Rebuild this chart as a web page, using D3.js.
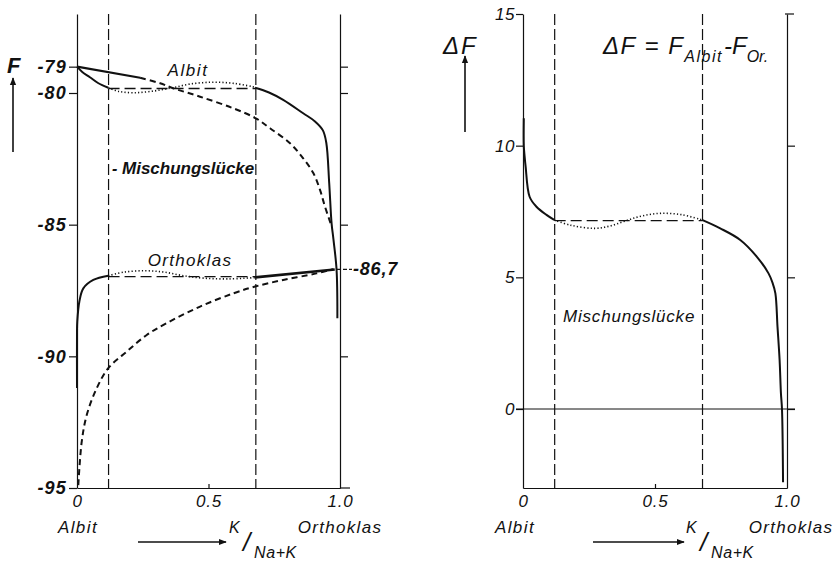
<!DOCTYPE html>
<html><head><meta charset="utf-8">
<script src="https://cdn.jsdelivr.net/npm/d3@7"></script>
<style>
body{margin:0;background:#fff;}
text{font-family:"Liberation Sans",Arial,sans-serif;font-style:italic;fill:#111;}
</style></head>
<body><svg id="c" width="840" height="566"></svg>
<script>
// ---------- data ----------
const gapBounds = [0.12, 0.68];
const leftYTicks = [-79, -80, -85, -90, -95];
const leftRightTicks = [-79, -80, -85, -90];
const rightYTicks = [15, 10, 5, 0];
const rightRightTicks = [10, 5, 0];
const xTicks = [0, 0.5, 1];
const xTickLabels = ["0", "0.5", "1.0"];
const orthoEnd = -86.7;

const albitSolidLeft = [[0,-79],[0.02,-79.2],[0.049,-79.4],[0.08,-79.62],[0.119,-79.8]];
const albitDotted = [[0.119,-79.8],[0.16,-79.94],[0.214,-79.99],[0.28,-79.94],[0.354,-79.82],[0.43,-79.66],[0.518,-79.59],[0.6,-79.64],[0.677,-79.78]];
const albitTie = [[0.12,-79.83],[0.68,-79.83]];
const albitSolidRight = [[0.677,-79.8],[0.73,-79.98],[0.784,-80.26],[0.86,-80.77],[0.905,-81.08],[0.935,-81.42],[0.948,-81.9],[0.959,-83.43],[0.968,-84.95],[0.975,-85.55],[0.987,-86.72],[0.99,-88.55]];
const albitTangent = [[0,-79],[0.24,-79.42]];
const albitDashed = [[0.24,-79.42],[0.316,-79.63],[0.366,-79.82],[0.468,-80.14],[0.594,-80.58],[0.68,-80.96],[0.734,-81.34],[0.81,-81.91],[0.86,-82.48],[0.899,-83.05],[0.924,-83.68],[0.943,-84.32],[0.966,-85.0]];

const orthoSolidLeft = [[0,-91.2],[0,-89.06],[0.001,-88.68],[0.009,-87.92],[0.024,-87.42],[0.062,-87.1],[0.119,-86.94]];
const orthoDotted = [[0.119,-86.94],[0.18,-86.8],[0.26,-86.75],[0.33,-86.8],[0.4,-86.93],[0.48,-87.03],[0.575,-87.06],[0.677,-87.01]];
const orthoTie = [[0.12,-86.97],[0.68,-86.97]];
const orthoTangent = [[0.677,-87.0],[0.98,-86.7]];
const orthoDashed = [[0.005,-94.89],[0.018,-93.24],[0.037,-92.23],[0.075,-91.21],[0.119,-90.45],[0.189,-89.82],[0.265,-89.19],[0.341,-88.74],[0.468,-88.11],[0.594,-87.61],[0.677,-87.35],[0.784,-87.1],[0.911,-86.85],[0.975,-86.69]];

const dfSolidLeft = [[0.003,11.04],[0.003,10],[0.006,9.6],[0.01,9.2],[0.025,8.06],[0.051,7.68],[0.089,7.37],[0.118,7.18]];
const dfDotted = [[0.118,7.18],[0.18,6.98],[0.272,6.86],[0.33,6.95],[0.39,7.15],[0.45,7.33],[0.519,7.43],[0.6,7.38],[0.678,7.18]];
const dfTie = [[0.12,7.15],[0.68,7.15]];
const dfSolidRight = [[0.678,7.18],[0.747,6.86],[0.823,6.42],[0.886,5.78],[0.93,5.15],[0.945,4.8],[0.956,4.39],[0.964,3.13],[0.972,1.86],[0.977,0.6],[0.981,0],[0.985,-2.78]];

// ---------- setup ----------
const svg = d3.select("#c");
svg.append("defs").append("marker").attr("id","ah").attr("viewBox","0 0 10 10")
  .attr("refX",9).attr("refY",5).attr("markerWidth",8).attr("markerHeight",8)
  .attr("markerUnits","userSpaceOnUse").attr("orient","auto")
  .append("path").attr("d","M0,1 L10,5 L0,9 Z").attr("fill","#111");

const xL = d3.scaleLinear([0,1],[77,340]);
const yL = d3.scaleLinear([-95,-77],[488,14]);
const xR = d3.scaleLinear([0,1],[523,787]);
const yR = d3.scaleLinear([-3,15],[488,14]);
const hy = v => String(v).replace("\u2212","-");

function styleAxis(g, fs, fw, ls){
  g.selectAll(".domain").attr("stroke","#111").attr("stroke-width",1.2);
  g.selectAll(".tick line").attr("stroke","#111").attr("stroke-width",1.2);
  g.selectAll("text").attr("font-size",fs).attr("font-weight",fw||"normal")
    .attr("letter-spacing",ls||0)
    .attr("fill","#111").attr("font-family","Liberation Sans, Arial, sans-serif").style("font-style","italic");
}
function draw(data, xs, ys, opt){
  const line = d3.line().x(d=>xs(d[0])).y(d=>ys(d[1])).curve(opt.curve||d3.curveCatmullRom.alpha(0.5));
  svg.append("path").attr("d",line(data)).attr("fill","none").attr("stroke","#111")
    .attr("stroke-width",opt.w||1.8).attr("stroke-dasharray",opt.dash||null)
    .attr("stroke-linecap",opt.cap||"butt");
}
function arrow(x1,y1,x2,y2){
  svg.append("line").attr("x1",x1).attr("y1",y1).attr("x2",x2).attr("y2",y2)
    .attr("stroke","#111").attr("stroke-width",1.6).attr("marker-end","url(#ah)");
}
function txt(x,y,s,fs,anchor,fw,ls){
  return svg.append("text").attr("x",x).attr("y",y).attr("font-size",fs)
    .attr("text-anchor",anchor||"start").attr("font-weight",fw||"normal")
    .attr("letter-spacing",ls||0).text(s);
}

// ---------- LEFT PANEL ----------
const gl = svg.append("g").attr("transform",`translate(${xL(0)},0)`)
  .call(d3.axisLeft(yL).tickValues(leftYTicks).tickSize(8).tickSizeOuter(0).tickPadding(2).tickFormat(hy));
styleAxis(gl,18,"bold",1.2);
const gr = svg.append("g").attr("transform",`translate(${xL(1)},0)`)
  .call(d3.axisRight(yL).tickValues(leftRightTicks).tickSize(8).tickSizeOuter(0).tickFormat(""));
styleAxis(gr,12);
const gb = svg.append("g").attr("transform",`translate(0,${yL(-95)})`)
  .call(d3.axisBottom(xL).tickValues(xTicks).tickSize(-4).tickSizeOuter(0).tickPadding(7).tickFormat((d,i)=>xTickLabels[i]));
styleAxis(gb,17,"normal",0.8);
gb.selectAll(".tick").filter(d=>d!==0.5).select("line").remove();
svg.append("line").attr("x1",xL(1)).attr("x2",xL(1)+10).attr("y1",yL(-95)).attr("y2",yL(-95)).attr("stroke","#111").attr("stroke-width",1.2);
// -86,7 marker
svg.append("line").attr("x1",xL(1)-3).attr("x2",xL(1)+12).attr("y1",yL(orthoEnd)).attr("y2",yL(orthoEnd))
  .attr("stroke","#111").attr("stroke-width",1.2).attr("stroke-dasharray","4,2");
txt(xL(1)+13, yL(orthoEnd)+6, "-86,7", 18, "start", "bold", 0.8);

gapBounds.forEach(g=>{
  svg.append("line").attr("x1",xL(g)).attr("x2",xL(g)).attr("y1",yL(-77)).attr("y2",yL(-95))
    .attr("stroke","#111").attr("stroke-width",1.2).attr("stroke-dasharray","11,4");
});

draw(albitSolidLeft,xL,yL,{w:2});
draw(albitDotted,xL,yL,{w:1.6,dash:"1.2,2.2"});
draw(albitTie,xL,yL,{w:1.3,dash:"11,5",curve:d3.curveLinear});
draw(albitSolidRight,xL,yL,{w:2});
draw(albitTangent,xL,yL,{w:2.2,curve:d3.curveLinear});
draw(albitDashed,xL,yL,{w:2,dash:"6,4"});
draw(orthoSolidLeft,xL,yL,{w:2});
draw(orthoDotted,xL,yL,{w:1.6,dash:"1.2,2.2"});
draw(orthoTie,xL,yL,{w:1.3,dash:"11,5",curve:d3.curveLinear});
draw(orthoTangent,xL,yL,{w:2.6,curve:d3.curveLinear});
draw(orthoDashed,xL,yL,{w:2,dash:"6,4"});

txt(7,73,"F",22,"start","bold");
arrow(13,152,13,78);
txt(188,76,"Albit",17,"middle","normal",1.6);
txt(112,174,"-",16,"start","bold");
txt(122,174,"Mischungslücke",17,"start","bold",0);
txt(190,266,"Orthoklas",17,"middle","normal",1.3);
txt(78,533,"Albit",17,"middle","normal",1.4);
txt(340,533,"Orthoklas",17,"middle","normal",1.3);
arrow(138,542,226,542);
txt(229,533,"K",16,"start");
txt(243,551,"/",26,"start");
txt(254,558,"Na+K",16,"start","normal",0.6);

// ---------- RIGHT PANEL ----------
const rl = svg.append("g").attr("transform",`translate(${xR(0)},0)`)
  .call(d3.axisLeft(yR).tickValues(rightYTicks).tickSize(7).tickSizeOuter(0).tickPadding(1));
styleAxis(rl,17,"normal",0.5);
const rr = svg.append("g").attr("transform",`translate(${xR(1)},0)`)
  .call(d3.axisRight(yR).tickValues(rightRightTicks).tickSize(8).tickSizeOuter(0).tickFormat(""));
styleAxis(rr,12);
svg.append("line").attr("x1",xR(1)-2).attr("x2",xR(1)+7).attr("y1",yR(15)).attr("y2",yR(15)).attr("stroke","#111").attr("stroke-width",1.2);
const rb = svg.append("g").attr("transform",`translate(0,${yR(-3)})`)
  .call(d3.axisBottom(xR).tickValues(xTicks).tickSize(-4).tickSizeOuter(0).tickPadding(7).tickFormat((d,i)=>xTickLabels[i]));
styleAxis(rb,17,"normal",0.8);
rb.selectAll(".tick").filter(d=>d!==0.5).select("line").remove();
svg.append("line").attr("x1",xR(0)-7).attr("x2",xR(1)+8).attr("y1",yR(0)).attr("y2",yR(0)).attr("stroke","#111").attr("stroke-width",1);

gapBounds.forEach(g=>{
  svg.append("line").attr("x1",xR(g)).attr("x2",xR(g)).attr("y1",yR(15)).attr("y2",yR(-3))
    .attr("stroke","#111").attr("stroke-width",1.2).attr("stroke-dasharray","11,4");
});

draw(dfSolidLeft,xR,yR,{w:2});
draw(dfDotted,xR,yR,{w:1.6,dash:"1.2,2.2"});
draw(dfTie,xR,yR,{w:1.3,dash:"11,5",curve:d3.curveLinear});
draw(dfSolidRight,xR,yR,{w:2});

txt(443,54,"ΔF",24,"start","normal",2);
arrow(465,132,465,56);
const t = txt(603,54,"",24,"start");
t.append("tspan").attr("letter-spacing",1.5).text("ΔF = F");
t.append("tspan").attr("dy",8).attr("font-size",16).attr("letter-spacing",1.5).text("Albit");
t.append("tspan").attr("dy",-8).attr("dx",1).text("-F");
t.append("tspan").attr("dy",8).attr("font-size",16).text("Or.");
txt(563,322,"Mischungslücke",17,"start","normal",0.8);
txt(515,533,"Albit",17,"middle","normal",1.4);
txt(791,533,"Orthoklas",17,"middle","normal",1.3);
arrow(593,542,684,542);
txt(686,533,"K",16,"start");
txt(700,551,"/",26,"start");
txt(711,558,"Na+K",16,"start","normal",0.6);
</script></body></html>
